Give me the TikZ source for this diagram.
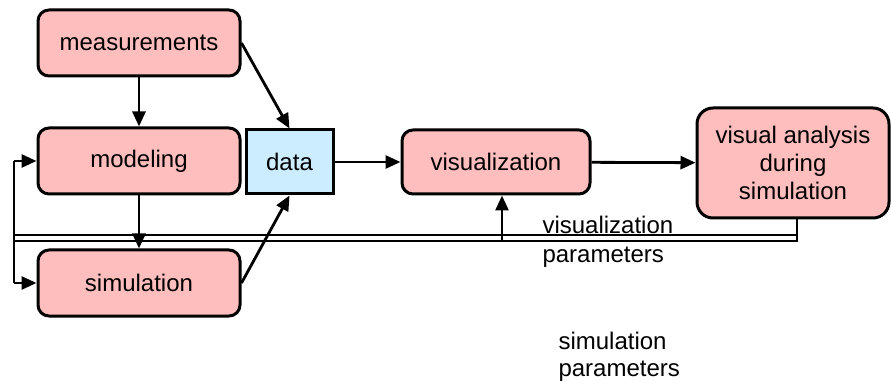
\documentclass[tikz,border=0pt]{standalone}
\usepackage{fontspec}
\setmainfont{Liberation Sans}
\usetikzlibrary{arrows.meta,calc}
\definecolor{stagefill}{RGB}{255,190,190}
\definecolor{datafill}{RGB}{204,236,255}
\begin{document}
\begin{tikzpicture}[x=1pt,y=-1pt,
  line width=3pt,
  font=\fontsize{24}{28}\selectfont,
  stagebox/.style={draw, fill=stagefill, rounded corners=11pt, inner sep=2pt, align=center},
  databox/.style={draw, fill=datafill, inner sep=2pt},
  flow/.style={-{Triangle[length=15pt,width=13pt]}, line width=2.8pt},
  wire/.style={line width=2.8pt},
  lbl/.style={anchor=base west, inner sep=0pt}]
\useasboundingbox (0,0) rectangle (891,387);

% process stages
\node[stagebox, minimum width=202pt, minimum height=66pt] (meas)  at (139,43)  {measurements};
\node[stagebox, minimum width=202pt, minimum height=66pt] (model) at (139,161) {modeling};
\node[stagebox, minimum width=202pt, minimum height=66pt] (sim)   at (139,283) {simulation};
\node[databox, minimum width=87pt, minimum height=64pt]    (data)  at (289.5,162) {data};
\node[stagebox, minimum width=188pt, minimum height=64pt] (vis)   at (496,162) {visualization};
\node[stagebox, rounded corners=16pt, minimum width=192pt, minimum height=110pt] (va) at (793,163)
  {visual analysis\\during\\simulation};

% forward flow
\draw[flow] (meas) -- (model);
\draw[flow] (model) -- (sim);
\draw[flow] (meas.east) -- (data.north);
\draw[flow] (sim.east) -- (data.south);
\draw[flow] (data) -- (vis);
\draw[flow] (vis) -- (va);

% feedback wiring
\coordinate (vaout) at ($(va.south)+(4,0)$);
\coordinate (busB) at (vaout |- 0,241);
\coordinate (busA) at (vaout |- 0,235);
\coordinate (leftB) at (14,241);
\coordinate (leftA) at (14,235);
\coordinate (toModel) at (model.west -| leftB);
\coordinate (toSim) at (sim.west -| leftB);
\coordinate (visin) at ($(vis.south)+(6,0)$);
\coordinate (visbus) at (visin |- busB);

\draw[wire] (vaout) -- (busB) -- (leftB);
\draw[wire] (busA) -- (leftA);
\draw[wire] (toModel) -- (toSim);
\draw[flow] (toModel) -- (model.west);
\draw[flow] (toSim) -- (sim.west);
\draw[flow] (visbus) -- (visin);

% parameter labels
\node[lbl] (vpar1) at (541,234) {visualization};
\node[lbl] (vpar2) at (541,263) {parameters};
\node[lbl] (spar1) at (557,349) {simulation};
\node[lbl] (spar2) at (557,376) {parameters};
\end{tikzpicture}
\end{document}
